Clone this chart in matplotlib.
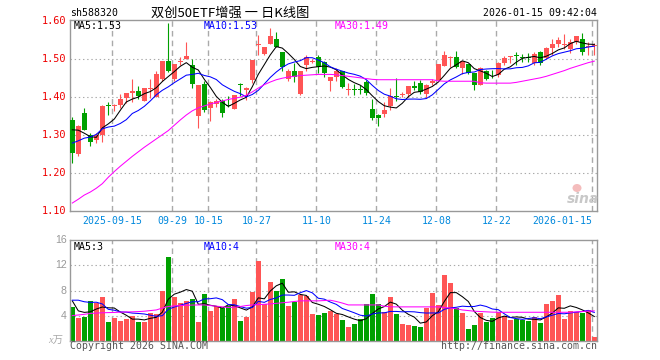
import numpy as np
import pandas as pd
import matplotlib
matplotlib.use("Agg")
import matplotlib.pyplot as plt
from matplotlib.patches import Ellipse

plt.rcParams["lines.scale_dashes"] = False

# daily bars, 2025-09-04 .. 2026-01-15 (88 sessions)
opens = [1.340, 1.249, 1.358, 1.300, 1.288, 1.300, 1.378, 1.376, 1.379, 1.398,
         1.412, 1.417, 1.391, 1.422, 1.400, 1.448, 1.496, 1.448, 1.492, 1.500,
         1.486, 1.350, 1.435, 1.372, 1.383, 1.390, 1.380, 1.370, 1.435, 1.418,
         1.444, 1.538, 1.514, 1.540, 1.554, 1.518, 1.447, 1.470, 1.409, 1.486,
         1.494, 1.507, 1.493, 1.442, 1.453, 1.468, 1.419, 1.421, 1.421, 1.440,
         1.370, 1.353, 1.356, 1.377, 1.402, 1.406, 1.409, 1.430, 1.438, 1.408,
         1.437, 1.446, 1.481, 1.504, 1.505, 1.476, 1.488, 1.463, 1.433, 1.470,
         1.454, 1.458, 1.490, 1.506, 1.510, 1.504, 1.505, 1.489, 1.518, 1.502,
         1.530, 1.540, 1.538, 1.526, 1.546, 1.553, 1.533, 1.534]
highs = [1.347, 1.326, 1.372, 1.306, 1.306, 1.379, 1.386, 1.383, 1.409, 1.412,
         1.449, 1.430, 1.425, 1.449, 1.470, 1.496, 1.595, 1.488, 1.505, 1.545,
         1.500, 1.432, 1.442, 1.390, 1.395, 1.395, 1.402, 1.407, 1.437, 1.426,
         1.498, 1.565, 1.533, 1.581, 1.572, 1.518, 1.474, 1.491, 1.468, 1.510,
         1.500, 1.512, 1.496, 1.454, 1.477, 1.470, 1.437, 1.435, 1.433, 1.444,
         1.395, 1.356, 1.388, 1.423, 1.451, 1.413, 1.430, 1.442, 1.444, 1.435,
         1.447, 1.488, 1.523, 1.509, 1.521, 1.495, 1.488, 1.463, 1.479, 1.472,
         1.472, 1.493, 1.509, 1.509, 1.518, 1.513, 1.517, 1.519, 1.523, 1.532,
         1.553, 1.558, 1.567, 1.554, 1.562, 1.570, 1.546, 1.543]
lows = [1.227, 1.245, 1.313, 1.271, 1.280, 1.282, 1.354, 1.364, 1.372, 1.384,
        1.386, 1.395, 1.389, 1.398, 1.400, 1.442, 1.467, 1.442, 1.486, 1.500,
        1.423, 1.319, 1.361, 1.337, 1.375, 1.349, 1.375, 1.368, 1.402, 1.393,
        1.437, 1.510, 1.510, 1.540, 1.532, 1.468, 1.442, 1.439, 1.407, 1.470,
        1.489, 1.463, 1.454, 1.416, 1.442, 1.425, 1.405, 1.407, 1.409, 1.407,
        1.339, 1.323, 1.349, 1.367, 1.391, 1.401, 1.400, 1.418, 1.409, 1.397,
        1.432, 1.444, 1.481, 1.479, 1.477, 1.461, 1.460, 1.419, 1.432, 1.444,
        1.450, 1.454, 1.486, 1.490, 1.486, 1.494, 1.492, 1.486, 1.486, 1.501,
        1.512, 1.533, 1.528, 1.516, 1.541, 1.512, 1.512, 1.512]
closes = [1.252, 1.323, 1.314, 1.281, 1.300, 1.377, 1.376, 1.378, 1.396, 1.410,
          1.415, 1.402, 1.423, 1.424, 1.461, 1.496, 1.468, 1.488, 1.494, 1.509,
          1.435, 1.432, 1.365, 1.388, 1.390, 1.358, 1.378, 1.405, 1.432, 1.425,
          1.498, 1.541, 1.533, 1.561, 1.533, 1.479, 1.470, 1.454, 1.468, 1.505,
          1.496, 1.479, 1.463, 1.453, 1.470, 1.428, 1.420, 1.420, 1.420, 1.412,
          1.346, 1.344, 1.365, 1.402, 1.401, 1.408, 1.430, 1.423, 1.413, 1.432,
          1.443, 1.488, 1.511, 1.506, 1.479, 1.495, 1.463, 1.433, 1.477, 1.447,
          1.452, 1.491, 1.502, 1.508, 1.508, 1.503, 1.504, 1.514, 1.489, 1.530,
          1.539, 1.551, 1.540, 1.546, 1.560, 1.518, 1.535, 1.536]
# volume in 万手
volumes = [5.44, 3.63, 3.79, 6.35, 6.03, 7.04, 2.99, 3.63, 3.15, 3.47,
           3.95, 2.99, 2.99, 4.43, 4.27, 8.00, 13.39, 6.99, 6.03, 6.35,
           6.67, 2.99, 7.47, 4.75, 5.55, 5.23, 5.55, 6.67, 3.15, 3.79,
           7.79, 12.75, 5.87, 9.39, 7.95, 9.87, 5.55, 6.19, 7.31, 7.15,
           4.27, 4.11, 4.43, 4.75, 4.27, 3.31, 2.19, 2.67, 3.47, 5.87,
           7.47, 5.81, 4.59, 6.99, 4.27, 2.67, 2.51, 2.35, 2.19, 5.23,
           7.63, 5.71, 10.51, 9.23, 5.23, 4.43, 1.87, 2.51, 4.43, 2.99,
           3.63, 4.59, 3.95, 3.31, 3.47, 3.31, 3.15, 3.79, 2.83, 5.87,
           6.35, 7.31, 3.47, 4.75, 4.59, 4.43, 4.91, 0.59]

# sessions before the window, estimated from where MA5/MA10 start
close_before = [1.263, 1.244, 1.251, 1.231, 1.231, 1.328, 1.354, 1.326, 1.310]
vol_before = [3.6, 6.3, 7.4, 5.7, 9.8, 11.6, 5.0, 5.9, 3.8]

# MA30 lines
ma30_price = [1.121, 1.131, 1.142, 1.150, 1.160, 1.172, 1.189, 1.204, 1.218, 1.231,
              1.244, 1.256, 1.268, 1.279, 1.290, 1.301, 1.312, 1.326, 1.340, 1.353,
              1.364, 1.372, 1.377, 1.382, 1.386, 1.390, 1.394, 1.397, 1.400, 1.405,
              1.414, 1.424, 1.433, 1.440, 1.446, 1.450, 1.453, 1.455, 1.457, 1.458,
              1.459, 1.460, 1.460, 1.460, 1.459, 1.457, 1.455, 1.453, 1.451, 1.449,
              1.447, 1.446, 1.446, 1.446, 1.446, 1.446, 1.446, 1.446, 1.446, 1.446,
              1.446, 1.443, 1.442, 1.442, 1.442, 1.442, 1.442, 1.442, 1.438, 1.437,
              1.437, 1.437, 1.437, 1.437, 1.439, 1.442, 1.445, 1.448, 1.451, 1.455,
              1.460, 1.465, 1.470, 1.476, 1.481, 1.486, 1.491, 1.495]
ma30_vol = [4.0, 4.1, 4.2, 4.35, 4.4, 4.45, 4.48, 4.5, 4.55, 4.58,
            4.6, 4.64, 4.7, 4.8, 4.9, 5.2, 5.45, 5.55, 5.6, 5.65,
            5.68, 5.7, 5.7, 5.6, 5.5, 5.4, 5.3, 5.35, 5.45, 5.6,
            5.7, 5.75, 5.8, 5.87, 5.95, 6.05, 6.13, 6.25, 6.35, 6.35,
            6.35, 6.35, 6.4, 6.45, 6.25, 6.0, 5.7, 5.7, 5.7, 5.7,
            5.7, 5.7, 5.5, 5.4, 5.39, 5.39, 5.39, 5.39, 5.39, 5.39,
            5.39, 5.39, 5.3, 5.2, 5.1, 4.9, 4.8, 4.7, 4.65, 4.6,
            4.55, 4.53, 4.53, 4.53, 4.53, 4.53, 4.53, 4.53, 4.53, 4.53,
            4.53, 4.53, 4.53, 4.53, 4.6, 4.65, 4.72, 4.75]

date_idx = [7, 17, 23, 31, 41, 51, 61, 71, 87]
date_labels = ["2025-09-15", "09-29", "10-15", "10-27", "11-10",
               "11-24", "12-08", "12-22", "2026-01-15"]
price_ticks = [1.10, 1.20, 1.30, 1.40, 1.50, 1.60]
vol_ticks = [4, 8, 12, 16]

RED = "#ff5555"
GREEN = "#00a000"
GRID = "#aaaaaa"
MONO = "DejaVu Sans Mono"
W, H = 660, 360


def rolling(before, values, n):
    s = pd.Series(before + values).rolling(n).mean()
    return s.iloc[len(before):].values


n = len(closes)
x = np.arange(n)
o = np.array(opens)
c = np.array(closes)
up = c >= o
colors = np.where(up, RED, GREEN)

ma5 = rolling(close_before, closes, 5)
ma10 = rolling(close_before, closes, 10)
vma5 = rolling(vol_before, volumes, 5)
vma10 = rolling(vol_before, volumes, 10)

fig = plt.figure(figsize=(W / 100, H / 100), dpi=100)


def px_axes(left, top, right, bottom):
    return fig.add_axes([left / W, 1 - bottom / H, (right - left) / W, (bottom - top) / H])


def put(xp, yp, s, **kw):
    fig.text(xp / W, 1 - yp / H, s, **kw)


xlim = (-0.385, 87.45)
vlines = [i - 1 / 3 for i in date_idx]

# --- price panel
ax = px_axes(70, 20, 597, 211)
ax.set_xlim(*xlim)
ax.set_ylim(1.10, 1.6034)
for v in price_ticks[1:-1]:
    ax.axhline(v, color=GRID, lw=0.8, ls=(0, (1, 2)), zorder=0)
for v in vlines:
    ax.axvline(v, color=GRID, lw=1, ls=(0, (4, 3)), zorder=0)

ax.vlines(x, lows, highs, colors=colors, lw=0.8, zorder=2)
body = np.maximum(np.abs(c - o), 0.0022)
ax.bar(x, body, bottom=np.minimum(o, c), width=0.84, color=colors, lw=0, zorder=3)

ax.plot(x, ma5, color="black", lw=0.75, zorder=4)
ax.plot(x, ma10, color="#0000ff", lw=0.75, zorder=4)
ax.plot(x, ma30_price, color="#ff00ff", lw=0.75, zorder=4)

ax.set_xticks([])
ax.set_yticks([])
for s in ax.spines.values():
    s.set_color("#999999")
    s.set_linewidth(1)

for v in price_ticks:
    put(66.5, 211 - (v - 1.10) * 380, f"{v:.2f}", ha="right", va="center",
        color="#ee0000", family=MONO, fontsize=7.4)

for v, lab in zip(vlines, date_labels):
    xp = 70 + (v - xlim[0]) / (xlim[1] - xlim[0]) * 527
    if lab == date_labels[-1]:
        put(xp, 220.5, lab, ha="right", va="center", color="#0088dd", family=MONO, fontsize=7.15)
    else:
        put(xp, 220.5, lab, ha="center", va="center", color="#0088dd", family=MONO, fontsize=7.15)

put(74, 26, "MA5:1.53", ha="left", va="center", color="black", family=MONO, fontsize=7.15)
put(204, 26, "MA10:1.53", ha="left", va="center", color="#0000ff", family=MONO, fontsize=7.15)
put(335, 26, "MA30:1.49", ha="left", va="center", color="#ff00ff", family=MONO, fontsize=7.15)

# sina watermark: pink eye plus grey word
fig.add_artist(Ellipse((577 / W, 1 - 188 / H), 9 / W, 8 / H, color="#f4bcbc", lw=0))
put(583, 199, "sina", ha="center", va="center", color="#c8c8c8", fontsize=10,
    fontweight="bold", style="italic", family="DejaVu Sans")

# --- header
put(70, 13, "sh588320", ha="left", va="center", color="black", family=MONO, fontsize=7.15)
put(230, 13, "双创50ETF增强 一 日K线图", ha="center", va="center", color="black",
    family=["Noto Sans CJK SC", "DejaVu Sans"], fontsize=9.5)
put(597, 13, "2026-01-15 09:42:04", ha="right", va="center", color="black",
    family=MONO, fontsize=7.15)

# --- volume panel
vx = px_axes(70, 240.3, 597, 340.7)
vx.set_xlim(*xlim)
vx.set_ylim(0, 16)
for v in vol_ticks[:-1]:
    vx.axhline(v, color=GRID, lw=0.8, ls=(0, (1, 2)), zorder=0)
for v in vlines:
    vx.axvline(v, color=GRID, lw=1, ls=(0, (4, 3)), zorder=0)
vx.bar(x, volumes, width=0.84, color=colors, lw=0, zorder=2)
vx.plot(x, vma5, color="black", lw=0.75, zorder=3)
vx.plot(x, vma10, color="#0000ff", lw=0.75, zorder=3)
vx.plot(x, ma30_vol, color="#ff00ff", lw=0.75, zorder=3)
vx.set_xticks([])
vx.set_yticks([])
for s in vx.spines.values():
    s.set_color("#999999")
    s.set_linewidth(1)

for v in vol_ticks:
    put(66.5, 340.7 - v * 100.4 / 16, str(v), ha="right", va="center",
        color="#999999", family="Liberation Sans", fontsize=7.6)
put(63, 341, "x万", ha="right", va="center", color="#aaaaaa", style="italic",
    family=["Liberation Serif", "Noto Sans CJK SC"], fontsize=7.5)

put(74, 246.5, "MA5:3", ha="left", va="center", color="black", family=MONO, fontsize=7.15)
put(204, 246.5, "MA10:4", ha="left", va="center", color="#0000ff", family=MONO, fontsize=7.15)
put(335, 246.5, "MA30:4", ha="left", va="center", color="#ff00ff", family=MONO, fontsize=7.15)

put(69.5, 346, "Copyright 2026 SINA.COM", ha="left", va="center", color="#555555",
    family=MONO, fontsize=7.15)
put(597, 346, "http://finance.sina.com.cn", ha="right", va="center", color="#555555",
    family=MONO, fontsize=7.15)

fig.savefig("out.png", dpi=100, facecolor="white")
